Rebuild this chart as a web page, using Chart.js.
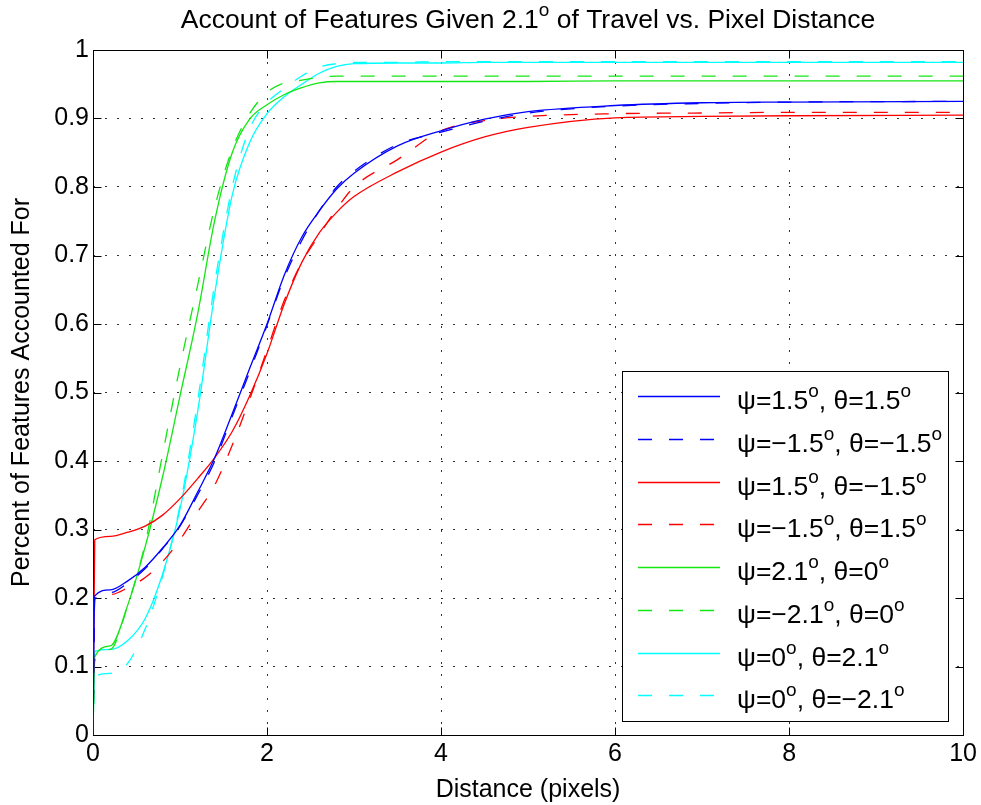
<!DOCTYPE html>
<html>
<head>
<meta charset="utf-8">
<title>Account of Features Given 2.1° of Travel vs. Pixel Distance</title>
<script src="https://cdn.jsdelivr.net/npm/chart.js@4.4.1/dist/chart.umd.min.js"></script>
<style>
  html, body { margin: 0; padding: 0; background: #fff; }
  canvas { display: block; }
</style>
</head>
<body>
<canvas id="featuresChart" width="981" height="805"></canvas>
<script>
const FONT = '"Liberation Sans", Arial, Helvetica, sans-serif';

// distance samples (pixels), shared by every series
const distance = [0, 0.02, 0.2, 0.4, 0.6, 0.8, 1.0, 1.2, 1.4, 1.6, 1.8, 2.0, 2.2, 2.4, 2.6, 2.8, 3.0, 3.5, 4.0, 4.5, 5.0, 6.0, 7.0, 8.0, 10];

// fraction of features accounted for, one array per attitude pair
const psiP15ThetaP15 = [0, 0.203, 0.212, 0.225, 0.245, 0.273, 0.306, 0.354, 0.405, 0.469, 0.535, 0.600, 0.672, 0.727, 0.765, 0.797, 0.820, 0.860, 0.882, 0.899, 0.910, 0.919, 0.923, 0.924, 0.925];
const psiM15ThetaM15 = [0, 0.198, 0.208, 0.222, 0.243, 0.272, 0.305, 0.350, 0.400, 0.465, 0.530, 0.598, 0.668, 0.722, 0.765, 0.800, 0.823, 0.862, 0.880, 0.896, 0.908, 0.918, 0.922, 0.924, 0.925];
const psiP15ThetaM15 = [0, 0.285, 0.290, 0.296, 0.305, 0.321, 0.345, 0.374, 0.405, 0.443, 0.495, 0.557, 0.630, 0.690, 0.733, 0.763, 0.786, 0.822, 0.851, 0.873, 0.887, 0.901, 0.903, 0.904, 0.905];
const psiM15ThetaP15 = [0, 0.200, 0.205, 0.215, 0.230, 0.253, 0.285, 0.325, 0.365, 0.423, 0.490, 0.562, 0.635, 0.690, 0.730, 0.768, 0.800, 0.840, 0.882, 0.897, 0.903, 0.907, 0.908, 0.909, 0.909];
const psiP21Theta0 = [0, 0.114, 0.130, 0.190, 0.275, 0.377, 0.495, 0.613, 0.752, 0.850, 0.899, 0.920, 0.935, 0.945, 0.952, 0.954, 0.954, 0.954, 0.954, 0.954, 0.954, 0.955, 0.955, 0.955, 0.955];
const psiM21Theta0 = [0, 0.108, 0.125, 0.190, 0.280, 0.410, 0.538, 0.655, 0.771, 0.855, 0.907, 0.938, 0.952, 0.956, 0.960, 0.962, 0.962, 0.962, 0.962, 0.962, 0.962, 0.962, 0.962, 0.962, 0.962];
const psi0ThetaP21 = [0, 0.122, 0.125, 0.138, 0.170, 0.235, 0.330, 0.470, 0.645, 0.788, 0.865, 0.907, 0.932, 0.950, 0.966, 0.976, 0.980, 0.981, 0.981, 0.982, 0.982, 0.982, 0.982, 0.982, 0.982];
const psi0ThetaM21 = [0, 0.085, 0.090, 0.105, 0.155, 0.232, 0.335, 0.485, 0.660, 0.800, 0.885, 0.923, 0.944, 0.962, 0.975, 0.980, 0.982, 0.982, 0.983, 0.983, 0.983, 0.983, 0.983, 0.983, 0.983];

// "^o" marks a raised small o
const seriesLabels = [
  'ψ=1.5^o, θ=1.5^o',
  'ψ=−1.5^o, θ=−1.5^o',
  'ψ=1.5^o, θ=−1.5^o',
  'ψ=−1.5^o, θ=1.5^o',
  'ψ=2.1^o, θ=0^o',
  'ψ=−2.1^o, θ=0^o',
  'ψ=0^o, θ=2.1^o',
  'ψ=0^o, θ=−2.1^o'
];
const seriesValues = [psiP15ThetaP15, psiM15ThetaM15, psiP15ThetaM15, psiM15ThetaP15,
                      psiP21Theta0, psiM21Theta0, psi0ThetaP21, psi0ThetaM21];
const seriesColors = ['#0000ff', '#0000ff', '#ff0000', '#ff0000', '#14e614', '#14e614', '#00ffff', '#00ffff'];
const DASH = [14, 17];

const xTicks = [0, 2, 4, 6, 8, 10];
const yTicks = [0, 0.1, 0.2, 0.3, 0.4, 0.5, 0.6, 0.7, 0.8, 0.9, 1];

const chartTitle = 'Account of Features Given 2.1^o of Travel vs. Pixel Distance';

// text with superscript o's
function richWidth(ctx, text, size) {
  const parts = text.split('^o');
  let w = 0;
  ctx.font = size + 'px ' + FONT;
  parts.forEach(p => { w += ctx.measureText(p).width; });
  ctx.font = Math.round(size * 0.7) + 'px ' + FONT;
  w += (parts.length - 1) * ctx.measureText('o').width;
  return w;
}
function drawRich(ctx, text, x, y, size, align) {
  const parts = text.split('^o');
  const supSize = Math.round(size * 0.7);
  let cx = align === 'center' ? x - richWidth(ctx, text, size) / 2 : x;
  ctx.textAlign = 'left';
  ctx.textBaseline = 'alphabetic';
  parts.forEach((p, i) => {
    ctx.font = size + 'px ' + FONT;
    ctx.fillText(p, cx, y);
    cx += ctx.measureText(p).width;
    if (i < parts.length - 1) {
      ctx.font = supSize + 'px ' + FONT;
      ctx.fillText('o', cx, y - size * 0.45);
      cx += ctx.measureText('o').width;
    }
  });
}

// axes box with inward ticks on all four sides, plus the title
const axesBox = {
  id: 'axesBox',
  beforeDatasetsDraw(chart) {
    const { ctx, chartArea: a, scales: { x, y } } = chart;
    const L = Math.round(a.left) + 0.5, R = Math.round(a.right) + 0.5;
    const T = Math.round(a.top) + 0.5, B = Math.round(a.bottom) + 0.5;
    ctx.save();
    ctx.strokeStyle = '#000';
    ctx.lineWidth = 1;
    ctx.beginPath();
    xTicks.forEach(v => {
      const px = Math.round(x.getPixelForValue(v)) + 0.5;
      ctx.moveTo(px, B); ctx.lineTo(px, B - 8);
      ctx.moveTo(px, T); ctx.lineTo(px, T + 8);
    });
    yTicks.forEach(v => {
      const py = Math.round(y.getPixelForValue(v)) + 0.5;
      ctx.moveTo(L, py); ctx.lineTo(L + 8, py);
      ctx.moveTo(R, py); ctx.lineTo(R - 8, py);
    });
    ctx.stroke();
    ctx.strokeRect(L, T, R - L, B - T);
    ctx.fillStyle = '#000';
    drawRich(ctx, chartTitle, (a.left + a.right) / 2, 28, 26.5, 'center');
    ctx.restore();
  }
};

// boxed legend in the lower right corner
const boxLegend = {
  id: 'boxLegend',
  afterDatasetsDraw(chart) {
    const { ctx } = chart;
    const bx = 622.5, by = 371.5, bw = 326, bh = 350;
    ctx.save();
    ctx.fillStyle = '#fff';
    ctx.fillRect(bx, by, bw, bh);
    ctx.strokeStyle = '#000';
    ctx.lineWidth = 1;
    ctx.strokeRect(bx, by, bw, bh);
    chart.data.datasets.forEach((ds, i) => {
      const cy = Math.round(396 + i * 42.75) + 0.5;
      ctx.strokeStyle = ds.borderColor;
      ctx.lineWidth = ds.borderWidth;
      ctx.setLineDash(ds.borderDash || []);
      ctx.beginPath();
      ctx.moveTo(638, cy);
      ctx.lineTo(720, cy);
      ctx.stroke();
      ctx.setLineDash([]);
      ctx.fillStyle = '#000';
      drawRich(ctx, ds.label, 737, cy + 12, 26.5, 'left');
    });
    ctx.restore();
  }
};

const ctx = document.getElementById('featuresChart').getContext('2d');
new Chart(ctx, {
  type: 'line',
  data: {
    datasets: seriesValues.map((vals, i) => ({
      label: seriesLabels[i],
      data: distance.map((d, k) => ({ x: d, y: vals[k] })),
      borderColor: seriesColors[i],
      borderWidth: 1.3,
      borderDash: i % 2 ? DASH : [],
      pointRadius: 0,
      fill: false,
      cubicInterpolationMode: 'monotone'
    }))
  },
  options: {
    responsive: false,
    animation: false,
    layout: { padding: { top: 50, right: 12, left: 0, bottom: 0 } },
    plugins: {
      legend: { display: false },
      title: { display: false },
      tooltip: { enabled: false }
    },
    scales: {
      x: {
        type: 'linear',
        min: 0,
        max: 10,
        afterBuildTicks: s => { s.ticks = xTicks.map(v => ({ value: v })); },
        afterFit: s => { s.height = 70; },
        grid: { color: '#333', lineWidth: 1, drawTicks: false },
        border: { display: false, dash: [2, 10] },
        ticks: { color: '#000', padding: 4, font: { family: FONT, size: 25 }, callback: v => String(v) },
        title: { display: true, text: 'Distance (pixels)', color: '#000', font: { family: FONT, size: 25 }, padding: { top: 0, bottom: 0 } }
      },
      y: {
        type: 'linear',
        min: 0,
        max: 1,
        afterBuildTicks: s => { s.ticks = yTicks.map(v => ({ value: v })); },
        afterFit: s => { s.width = 93; },
        grid: { color: '#333', lineWidth: 1, drawTicks: false },
        border: { display: false, dash: [2, 10] },
        ticks: { color: '#000', padding: 4, font: { family: FONT, size: 25 }, callback: v => String(v) },
        title: { display: true, text: 'Percent of Features Accounted For', color: '#000', font: { family: FONT, size: 25 }, padding: { top: 7, bottom: 0 } }
      }
    }
  },
  plugins: [axesBox, boxLegend]
});
</script>
</body>
</html>
